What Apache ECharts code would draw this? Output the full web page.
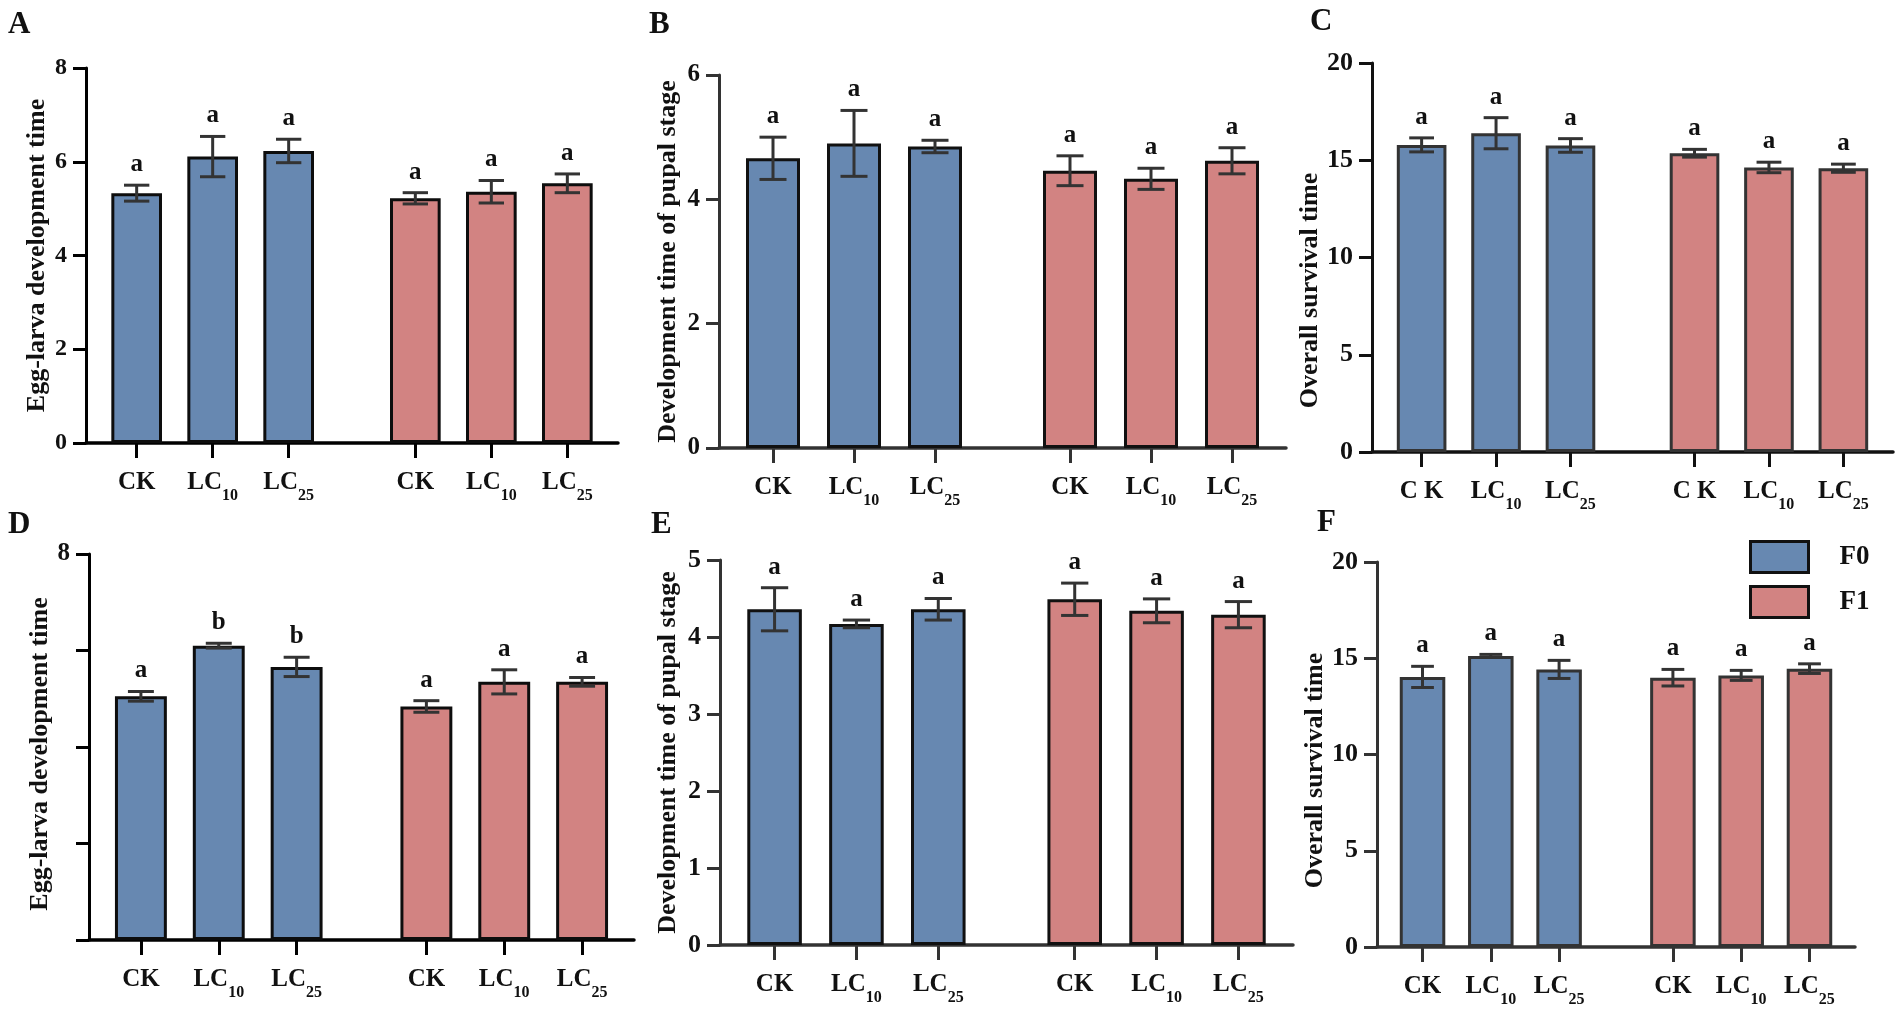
<!DOCTYPE html>
<html><head><meta charset="utf-8">
<script src="https://cdn.jsdelivr.net/npm/echarts@6/dist/echarts.min.js"></script>
<style>html,body{margin:0;padding:0;background:#fff;} #c{width:1902px;height:1011px;}</style>
</head><body><div id="c"></div>
<script>
// ---------- data ----------
const seriesNames = ['F0', 'F1'];
const treatLabels = ['CK', 'LC10', 'LC25'];
const treatLabelsC = ['C K', 'LC10', 'LC25'];

const aF0Mean = [5.33, 6.11, 6.23];   const aF0Err = [0.17, 0.43, 0.25];
const aF1Mean = [5.22, 5.36, 5.54];   const aF1Err = [0.12, 0.24, 0.20];
const aLetters = ['a', 'a', 'a', 'a', 'a', 'a'];

const bF0Mean = [4.66, 4.90, 4.85];   const bF0Err = [0.34, 0.53, 0.10];
const bF1Mean = [4.46, 4.33, 4.62];   const bF1Err = [0.24, 0.17, 0.21];
const bLetters = ['a', 'a', 'a', 'a', 'a', 'a'];

const cF0Mean = [15.79, 16.39, 15.76]; const cF0Err = [0.36, 0.80, 0.35];
const cF1Mean = [15.36, 14.63, 14.59]; const cF1Err = [0.20, 0.27, 0.21];
const cLetters = ['a', 'a', 'a', 'a', 'a', 'a'];

const dF0Mean = [5.05, 6.10, 5.66];   const dF0Err = [0.10, 0.05, 0.20];
const dF1Mean = [4.84, 5.35, 5.35];   const dF1Err = [0.12, 0.25, 0.09];
const dLetters = ['a', 'b', 'b', 'a', 'a', 'a'];

const eF0Mean = [4.36, 4.17, 4.36];   const eF0Err = [0.28, 0.05, 0.14];
const eF1Mean = [4.49, 4.34, 4.29];   const eF1Err = [0.21, 0.155, 0.17];
const eLetters = ['a', 'a', 'a', 'a', 'a', 'a'];

const fF0Mean = [14.03, 15.12, 14.42]; const fF0Err = [0.55, 0.08, 0.47];
const fF1Mean = [13.99, 14.11, 14.46]; const fF1Err = [0.43, 0.26, 0.25];
const fLetters = ['a', 'a', 'a', 'a', 'a', 'a'];

const yTicksA = [0, 2, 4, 6, 8];
const yTicksB = [0, 2, 4, 6];
const yTicksC = [0, 5, 10, 15, 20];
const yTicksD = [0, 2, 4, 6, 8];
const yTicksDShown = [8];
const yTicksE = [0, 1, 2, 3, 4, 5];
const yTicksF = [0, 5, 10, 15, 20];

// ---------- layout / style ----------
const FONT = '"Liberation Serif", "Times New Roman", serif';
const BLUE = '#6788B1', PINK = '#D28382';
const NSLOT = 22;                // spacer slots so the two groups are separated
const F0_SLOTS = [2, 5, 8];
const F1_SLOTS = [13, 16, 19];

const panels = [
  {letter: 'A', lx: 8, ly: 9, left: 86, top: 68, width: 532, height: 375, ticks: yTicksA,
   f0: aF0Mean, f0e: aF0Err, f1: aF1Mean, f1e: aF1Err, letters: aLetters, labels: treatLabels,
   name: 'Egg-larva development time', nameGap: 36, namePad: 0, axisColor: '#000', border: '#0d0d0d', yFont: 24},
  {letter: 'B', lx: 649, ly: 9, left: 719, top: 75, width: 567, height: 373, ticks: yTicksB,
   f0: bF0Mean, f0e: bF0Err, f1: bF1Mean, f1e: bF1Err, letters: bLetters, labels: treatLabels,
   name: 'Development time of pupal stage', nameGap: 38, namePad: 0, axisColor: '#333', border: '#111', yFont: 25},
  {letter: 'C', lx: 1310, ly: 6, left: 1372, top: 63, width: 521, height: 389, ticks: yTicksC,
   f0: cF0Mean, f0e: cF0Err, f1: cF1Mean, f1e: cF1Err, letters: cLetters, labels: treatLabelsC,
   name: 'Overall survival time', nameGap: 42, namePad: 66, axisColor: '#111', border: '#333', yFont: 26},
  {letter: 'D', lx: 8, ly: 509, left: 89, top: 554, width: 545, height: 386, ticks: yTicksD, shown: yTicksDShown,
   f0: dF0Mean, f0e: dF0Err, f1: dF1Mean, f1e: dF1Err, letters: dLetters, labels: treatLabels,
   name: 'Egg-larva development time', nameGap: 32, namePad: 14, axisColor: '#000', border: '#0d0d0d', yFont: 25},
  {letter: 'E', lx: 651, ly: 509, left: 720, top: 560, width: 573, height: 385, ticks: yTicksE,
   f0: eF0Mean, f0e: eF0Err, f1: eF1Mean, f1e: eF1Err, letters: eLetters, labels: treatLabels,
   name: 'Development time of pupal stage', nameGap: 39, namePad: 0, axisColor: '#333', border: '#111', yFont: 26},
  {letter: 'F', lx: 1317, ly: 507, left: 1377, top: 562, width: 478, height: 385, ticks: yTicksF,
   f0: fF0Mean, f0e: fF0Err, f1: fF1Mean, f1e: fF1Err, letters: fLetters, labels: treatLabels,
   name: 'Overall survival time', nameGap: 38, namePad: 32, axisColor: '#333', border: '#333', yFont: 26}
];

const slotKeys = Array.from({length: NSLOT}, (_, i) => 's' + i);
const isBarSlot = i => F0_SLOTS.includes(i) || F1_SLOTS.includes(i);

const option = {
  backgroundColor: '#fff',
  animation: false,
  title: [], grid: [], xAxis: [], yAxis: [], series: [],
  legend: {
    data: seriesNames, orient: 'vertical', left: 1744, top: 535,
    itemWidth: 58, itemHeight: 31, itemGap: 11, icon: 'rect',
    itemStyle: {borderColor: '#111', borderWidth: 3},
    textStyle: {fontFamily: FONT, fontWeight: 'bold', fontSize: 27, color: '#111', padding: [0, 0, 0, 26]},
    selectedMode: false
  }
};

panels.forEach((p, gi) => {
  const slotLabel = new Array(NSLOT).fill('');
  F0_SLOTS.forEach((s, k) => slotLabel[s] = p.labels[k]);
  F1_SLOTS.forEach((s, k) => slotLabel[s] = p.labels[k]);
  const bw = 2 * p.width / (NSLOT - 1);

  option.title.push({
    text: p.letter, left: p.lx, top: p.ly, padding: 0,
    textStyle: {fontFamily: FONT, fontWeight: 'bold', fontSize: 31, color: '#111'}
  });
  option.grid.push({left: p.left, top: p.top, width: p.width, height: p.height, containLabel: false, outerBoundsMode: 'none'});
  option.xAxis.push({
    gridIndex: gi, type: 'category', data: slotKeys, boundaryGap: false,
    axisLine: {show: true, onZero: true, lineStyle: {color: p.axisColor, width: 3.5}},
    axisTick: {show: true, length: 15, interval: (i) => isBarSlot(i), lineStyle: {color: p.axisColor, width: 3}},
    axisLabel: {
      show: true, interval: (i) => isBarSlot(i), margin: 27,
      formatter: (v, i) => {
        const t = slotLabel[i];
        const m = /^LC(\d+)$/.exec(t);
        return m ? '{m|LC}{s|' + m[1] + '}' : (t ? '{m|' + t + '}' : '');
      },
      rich: {
        m: {fontFamily: FONT, fontWeight: 'bold', fontSize: 25, color: '#111', lineHeight: 30, verticalAlign: 'top'},
        s: {fontFamily: FONT, fontWeight: 'bold', fontSize: 16, color: '#111', lineHeight: 16, padding: [18, 0, 0, 0], verticalAlign: 'top'}
      }
    },
    splitLine: {show: false}
  });
  const tk = p.ticks;
  option.yAxis.push({
    gridIndex: gi, type: 'value', min: tk[0], max: tk[tk.length - 1], interval: tk[1] - tk[0],
    axisLine: {show: true, lineStyle: {color: p.axisColor, width: 3}},
    axisTick: {show: true, length: 13, inside: false, lineStyle: {color: p.axisColor, width: 3}},
    axisLabel: {
      show: true, margin: 19, fontFamily: FONT, fontWeight: 'bold', fontSize: p.yFont, color: '#111',
      formatter: v => (p.shown ? (p.shown.includes(v) ? String(v) : '') : String(v))
    },
    splitLine: {show: false},
    name: p.name, nameLocation: 'middle', nameGap: p.nameGap, nameRotate: 90,
    nameTextStyle: {fontFamily: FONT, fontWeight: 'bold', fontSize: 26, color: '#111',
      padding: p.namePad >= 0 ? [0, p.namePad, 0, 0] : [0, 0, 0, -p.namePad]}
  });

  const f0Data = new Array(NSLOT).fill('-');
  const f1Data = new Array(NSLOT).fill('-');
  F0_SLOTS.forEach((s, k) => f0Data[s] = p.f0[k]);
  F1_SLOTS.forEach((s, k) => f1Data[s] = p.f1[k]);

  [[seriesNames[0], f0Data, BLUE], [seriesNames[1], f1Data, PINK]].forEach(([nm, d, col]) => {
    option.series.push({
      name: nm, type: 'bar', xAxisIndex: gi, yAxisIndex: gi, data: d,
      barWidth: bw, barGap: '-100%',
      itemStyle: {color: col, borderColor: p.border, borderWidth: 3},
      emphasis: {disabled: true}, z: 2
    });
  });

  const errData = [];
  F0_SLOTS.forEach((s, k) => errData.push([s, p.f0[k], p.f0e[k]]));
  F1_SLOTS.forEach((s, k) => errData.push([s, p.f1[k], p.f1e[k]]));
  const capHalf = bw / 4;
  const letters = p.letters;
  option.series.push({
    type: 'custom', xAxisIndex: gi, yAxisIndex: gi, data: errData, z: 5,
    encode: {x: 0, y: 1}, silent: true,
    renderItem: (params, api) => {
      const x = api.value(0), m = api.value(1), e = api.value(2);
      const t = api.coord([x, m + e]);
      const b = api.coord([x, m - e]);
      const st = {stroke: '#333', lineWidth: 3};
      return {type: 'group', children: [
        {type: 'line', shape: {x1: t[0], y1: t[1], x2: b[0], y2: b[1]}, style: st},
        {type: 'line', shape: {x1: t[0] - capHalf, y1: t[1], x2: t[0] + capHalf, y2: t[1]}, style: st},
        {type: 'line', shape: {x1: b[0] - capHalf, y1: b[1], x2: b[0] + capHalf, y2: b[1]}, style: st},
        {type: 'text', x: t[0], y: t[1] - 8, style: {
          text: letters[params.dataIndex], textAlign: 'center', textVerticalAlign: 'bottom',
          font: 'bold 25px ' + FONT, fill: '#111'}}
      ]};
    }
  });
});

const chart = echarts.init(document.getElementById('c'), null, {renderer: 'canvas'});
chart.setOption(option);
</script>
</body></html>
